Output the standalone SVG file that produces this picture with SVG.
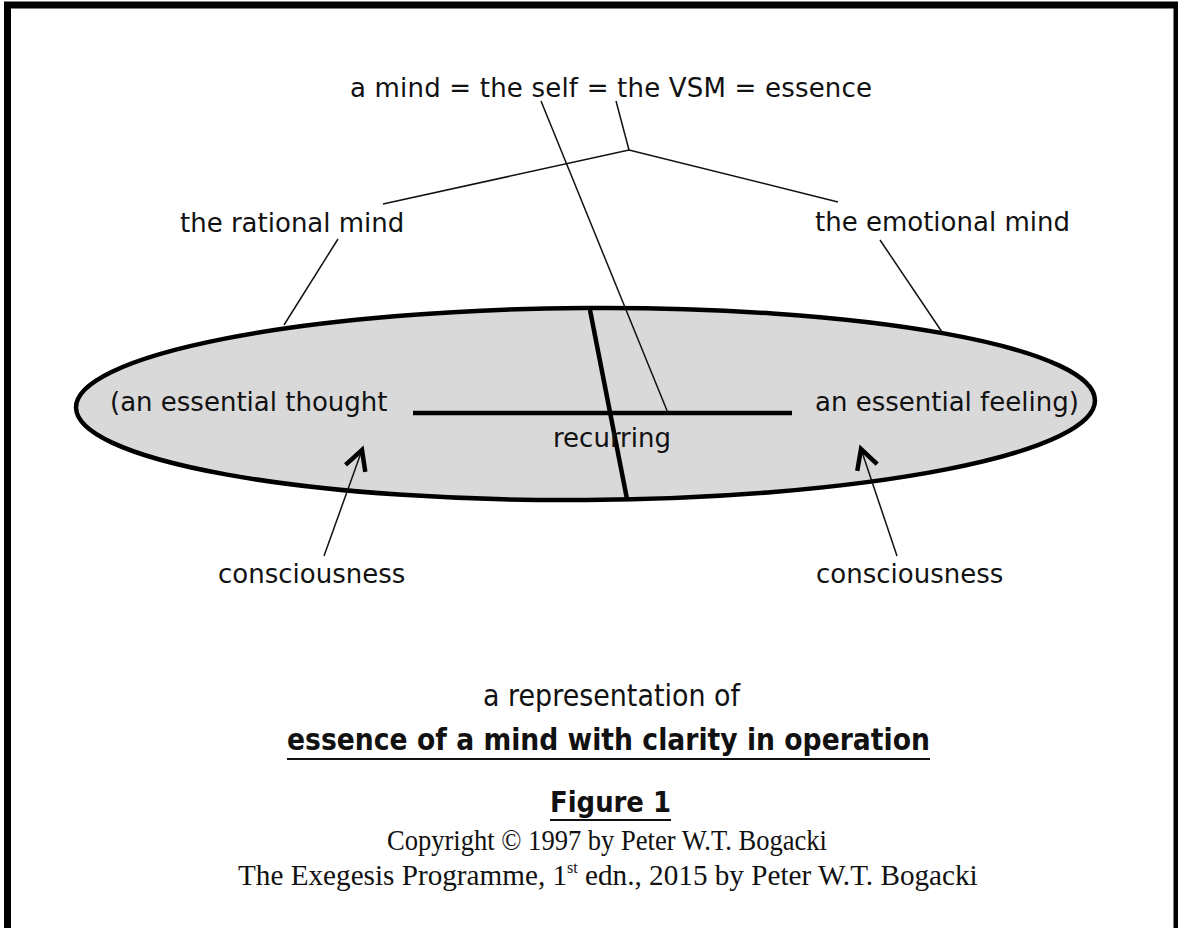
<svg xmlns="http://www.w3.org/2000/svg" width="1178" height="928" viewBox="0 0 1178 928">
<style>
.lbl{font-family:"DejaVu Sans",Verdana,sans-serif;font-size:26px;fill:#111}
.thin{stroke:#111;stroke-width:1.5;fill:none}
.thick{stroke:#000;stroke-width:4.5;fill:none}
.cap{font-family:"DejaVu Sans",sans-serif;fill:#111}
.serif{font-family:"Liberation Serif","Times New Roman",serif;fill:#111}
</style>
<defs>
<marker id="chev" markerUnits="userSpaceOnUse" markerWidth="30" markerHeight="30" viewBox="-16 -10 20 20" refX="0" refY="0" orient="auto">
<path d="M-13,-7 L0,0 L-13,7" fill="none" stroke="#000" stroke-width="3"/>
</marker>
</defs>
<rect width="1178" height="928" fill="#fff"/>
<path d="M7.5,928 V5 H1177 V928" fill="none" stroke="#000" stroke-width="7"/>
<g id="ellipse">
<ellipse cx="585.5" cy="404" rx="509.5" ry="96" transform="rotate(-0.4 585.5 404)" fill="#d9d9d9" stroke="#000" stroke-width="4.5"/>
</g>
<g id="connectors">
<line class="thick" x1="590" y1="310" x2="627" y2="499"/>
<line class="thick" x1="413" y1="413" x2="792" y2="413"/>
<line class="thin" x1="541" y1="101" x2="668" y2="413"/>
<polyline class="thin" points="616,101 629,150"/>
<polyline class="thin" points="383,204 629,150 838,202"/>
<line class="thin" x1="338" y1="239" x2="284" y2="325"/>
<line class="thin" x1="880" y1="240" x2="942" y2="332"/>
<line class="thin" x1="324" y1="556" x2="362" y2="450" marker-end="url(#chev)"/>
<line class="thin" x1="897" y1="556" x2="861" y2="449" marker-end="url(#chev)"/>
</g>
<g id="top"><text class="lbl" x="350" y="97" textLength="522" font-size="27">a mind = the self = the VSM = essence</text></g>
<g id="rational"><text class="lbl" x="180" y="232">the rational mind</text></g>
<g id="emotional"><text class="lbl" x="815" y="231">the emotional mind</text></g>
<g id="thought"><text class="lbl" x="110" y="411">(an essential thought</text></g>
<g id="feeling"><text class="lbl" x="815" y="411">an essential feeling)</text></g>
<g id="recurring"><text class="lbl" x="553" y="447">recurring</text></g>
<g id="cons-left"><text class="lbl" x="218" y="583">consciousness</text></g>
<g id="cons-right"><text class="lbl" x="816" y="583">consciousness</text></g>
<g id="caption">
<text class="cap" x="483" y="706" font-size="30" textLength="257" lengthAdjust="spacingAndGlyphs">a representation of</text>
<text class="cap" x="287" y="750" font-size="30" font-weight="bold" textLength="643" lengthAdjust="spacingAndGlyphs">essence of a mind with clarity in operation</text>
<line x1="287" y1="759" x2="930" y2="759" stroke="#111" stroke-width="2"/>
<text class="cap" x="550" y="812" font-size="28" font-weight="bold" textLength="121" lengthAdjust="spacingAndGlyphs">Figure 1</text>
<line x1="550" y1="820" x2="671" y2="820" stroke="#111" stroke-width="2"/>
<text class="serif" x="387" y="850" font-size="29.5" textLength="440" lengthAdjust="spacingAndGlyphs">Copyright © 1997 by Peter W.T. Bogacki</text>
<text class="serif" x="238" y="885" font-size="29.2">The Exegesis Programme, 1<tspan font-size="16" dy="-12">st</tspan><tspan dy="12"> edn., 2015 by Peter W.T. Bogacki</tspan></text>
</g>
</svg>
